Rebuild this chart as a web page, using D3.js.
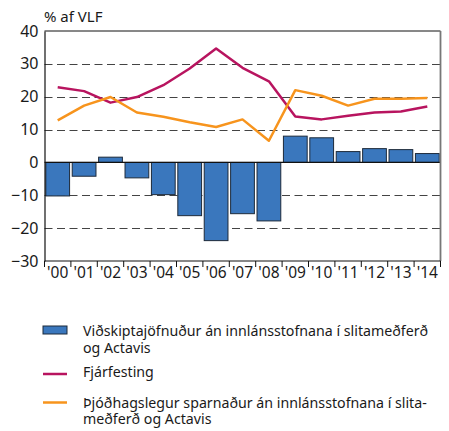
<!DOCTYPE html>
<html>
<head>
<meta charset="UTF-8">
<title>Viðskiptajöfnuður</title>
<script src="https://d3js.org/d3.v7.min.js"></script>
<style>
  body { margin: 0; background: #fff; }
  svg text { font-family: "Noto Sans", "Open Sans", sans-serif; fill: #1a1a1a; }
</style>
</head>
<body>
<div id="chart"></div>
<script>
// years on the x axis
var years = ["'00", "'01", "'02", "'03", "'04", "'05", "'06", "'07", "'08", "'09", "'10", "'11", "'12", "'13", "'14"];
// bars: current account balance
var balance = [-10.2, -4.2, 1.6, -4.7, -9.8, -16.2, -23.8, -15.6, -17.8, 8.0, 7.5, 3.3, 4.2, 3.9, 2.7];
// lines
var investment = [22.9, 21.7, 18.2, 19.9, 23.5, 28.6, 34.7, 28.8, 24.7, 14.0, 13.1, 14.2, 15.2, 15.5, 17.0];
var saving = [12.8, 17.3, 19.9, 15.2, 13.9, 12.2, 10.8, 13.1, 6.6, 22.0, 20.3, 17.3, 19.4, 19.4, 19.6];
var yTicks = [-30, -20, -10, 0, 10, 20, 30, 40];
var gridTicks = [-20, -10, 10, 20, 30];

var width = 449, height = 431;
var pLeft = 44.5, pRight = 440.5, pTop = 31, pBottom = 261;

var svg = d3.select("#chart").append("svg")
    .attr("width", width)
    .attr("height", height);

var x = d3.scaleBand().domain(years).range([pLeft, pRight]).paddingInner(0.1).paddingOuter(0.05);
var xc = d3.scalePoint().domain(years).range([pLeft, pRight]).padding(0.5);
var y = d3.scaleLinear().domain([-30, 40]).range([pBottom, pTop]);

// title of y axis
svg.append("text")
    .attr("x", 44).attr("y", 22)
    .style("font-size", "15px")
    .text("% af VLF");

// dashed grid
svg.append("g").selectAll("line")
    .data(gridTicks)
    .enter().append("line")
    .attr("x1", pLeft).attr("x2", pRight)
    .attr("y1", function(d){ return Math.round(y(d)) + 0.5; })
    .attr("y2", function(d){ return Math.round(y(d)) + 0.5; })
    .attr("stroke", "#444")
    .attr("stroke-width", 1.2)
    .attr("stroke-dasharray", "8,4.5");

// bars
svg.append("g").selectAll("rect")
    .data(balance)
    .enter().append("rect")
    .attr("x", function(d, i){ return x(years[i]); })
    .attr("width", x.bandwidth())
    .attr("y", function(d){ return y(Math.max(0, d)); })
    .attr("height", function(d){ return Math.abs(y(d) - y(0)); })
    .attr("fill", "#3a77bd")
    .attr("stroke", "#1d2a3a")
    .attr("stroke-width", 1);

// zero line
svg.append("line")
    .attr("x1", pLeft).attr("x2", pRight)
    .attr("y1", y(0)).attr("y2", y(0))
    .attr("stroke", "#111").attr("stroke-width", 1.2);

// lines
var line = d3.line()
    .x(function(d, i){ return xc(years[i]); })
    .y(function(d){ return y(d); });

svg.append("path")
    .datum(investment)
    .attr("d", line)
    .attr("fill", "none")
    .attr("stroke", "#b8145f")
    .attr("stroke-width", 2.5)
    .attr("stroke-linejoin", "round");

svg.append("path")
    .datum(saving)
    .attr("d", line)
    .attr("fill", "none")
    .attr("stroke", "#f7941d")
    .attr("stroke-width", 2.5)
    .attr("stroke-linejoin", "round");

// frame
svg.append("line").attr("x1", pLeft).attr("x2", pRight).attr("y1", pTop).attr("y2", pTop)
    .attr("stroke", "#111").attr("stroke-width", 1);
svg.append("line").attr("x1", pRight).attr("x2", pRight).attr("y1", pTop).attr("y2", pBottom)
    .attr("stroke", "#777").attr("stroke-width", 1.8);

// y axis
var yAxis = d3.axisLeft(y).tickValues(yTicks).tickSize(0).tickPadding(6);
var gy = svg.append("g").attr("transform", "translate(" + pLeft + ",0)").call(yAxis);
gy.select(".domain").attr("stroke", "#111").attr("stroke-width", 1.2);
gy.selectAll("text").style("font-size", "16px").attr("font-family", null).attr("fill", null);

// x axis with ticks between years
var gx = svg.append("g").attr("transform", "translate(0," + pBottom + ")");
gx.append("line").attr("x1", pLeft).attr("x2", pRight).attr("stroke", "#111").attr("stroke-width", 1.2);
var step = (pRight - pLeft) / years.length;
gx.selectAll(".tk")
    .data(d3.range(years.length + 1))
    .enter().append("line")
    .attr("class", "tk")
    .attr("x1", function(d){ return pLeft + d * step; })
    .attr("x2", function(d){ return pLeft + d * step; })
    .attr("y1", 0).attr("y2", 6)
    .attr("stroke", "#111");
gx.selectAll(".lb")
    .data(years)
    .enter().append("text")
    .attr("class", "lb")
    .attr("x", function(d){ return xc(d); })
    .attr("y", 17)
    .attr("text-anchor", "middle")
    .style("font-size", "15.5px")
    .text(function(d){ return d; });

// legend
var lg = svg.append("g");
lg.append("rect").attr("x", 43).attr("y", 326).attr("width", 24).attr("height", 8)
    .attr("fill", "#3a77bd").attr("stroke", "#1d2a3a");
lg.append("line").attr("x1", 43).attr("x2", 67).attr("y1", 374).attr("y2", 374)
    .attr("stroke", "#b8145f").attr("stroke-width", 2.5);
lg.append("line").attr("x1", 43).attr("x2", 67).attr("y1", 402.5).attr("y2", 402.5)
    .attr("stroke", "#f7941d").attr("stroke-width", 2.5);

var legendLines = [
  ["Viðskiptajöfnuður án innlánsstofnana í slitameðferð", 336],
  ["og Actavis", 352.5],
  ["Fjárfesting", 377],
  ["Þjóðhagslegur sparnaður án innlánsstofnana í slita-", 407.5],
  ["meðferð og Actavis", 424]
];
lg.selectAll(".lt")
    .data(legendLines)
    .enter().append("text")
    .attr("x", 83)
    .attr("y", function(d){ return d[1]; })
    .style("font-size", "14.2px")
    .text(function(d){ return d[0]; });
</script>
</body>
</html>
